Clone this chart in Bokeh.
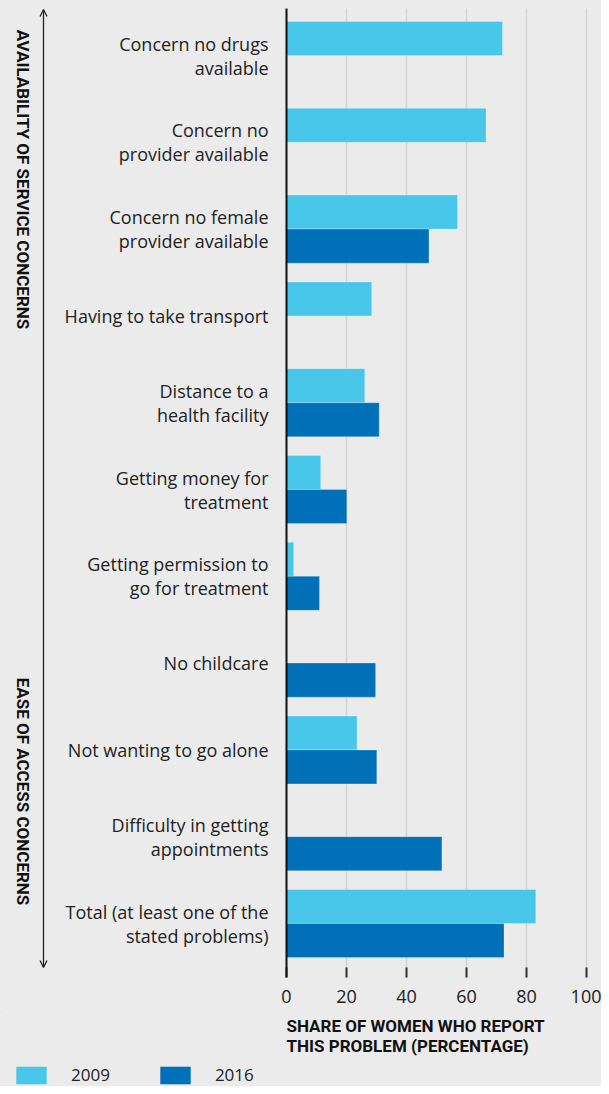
from bokeh.plotting import figure
from bokeh.layouts import column, row
from bokeh.models import (ColumnDataSource, Range1d, FixedTicker, Label, Arrow,
                          OpenHead, Legend, LegendItem)
from bokeh.embed import file_html
from bokeh.resources import INLINE
import math

categories = [
    "Concern no drugs\navailable",
    "Concern no\nprovider available",
    "Concern no female\nprovider available",
    "Having to take transport",
    "Distance to a\nhealth facility",
    "Getting money for\ntreatment",
    "Getting permission to\ngo for treatment",
    "No childcare",
    "Not wanting to go alone",
    "Difficulty in getting\nappointments",
    "Total (at least one of the\nstated problems)",
]
v2009 = [72.0, 66.5, 57.0, 28.4, 26.1, 11.4, 2.4, None, 23.5, None, 83.1]
v2016 = [None, None, 47.5, None, 30.9, 20.1, 11.0, 29.7, 30.1, 51.8, 72.5]
x_ticks = [0, 20, 40, 60, 80, 100]
series_names = ["2009", "2016"]
group_labels = ["AVAILABILITY OF SERVICE CONCERNS", "EASE OF ACCESS CONCERNS"]
axis_title = "SHARE OF WOMEN WHO REPORT\nTHIS PROBLEM (PERCENTAGE)"

C_LIGHT = "#49C7EA"
C_DARK = "#0070B8"
BG = "#EBEBEB"
TXT = "#222222"
DARK = "#111111"

BAR_H = 0.392
OFF = 0.196

SIDE_W = 60
MAIN_H = 1012
TOTAL_W = 601
TOTAL_H = 1086
TOP = 8
FRAME_BOTTOM = 977
FRAME_LEFT = 286
BG_STYLE = {"background-color": BG}

def style(fig):
    fig.background_fill_color = BG
    fig.border_fill_color = BG
    fig.outline_line_color = None

# ---------------- main chart ----------------
p = figure(width=TOTAL_W - SIDE_W, height=MAIN_H, output_backend="svg",
           toolbar_location=None, styles=BG_STYLE,
           x_range=Range1d(0, 105.0), y_range=Range1d(10.622, -0.5415),
           min_border_left=FRAME_LEFT - SIDE_W, min_border_right=0, min_border_top=TOP,
           min_border_bottom=MAIN_H - FRAME_BOTTOM)
style(p)

def src(vals, off):
    ys, xs = [], []
    for i, v in enumerate(vals):
        if v is not None:
            ys.append(i + off)
            xs.append(v)
    return ColumnDataSource(dict(y=ys, right=xs))

r1 = p.hbar(y="y", right="right", left=0, height=BAR_H, source=src(v2009, -OFF),
            fill_color=C_LIGHT, line_color="white", line_alpha=0.25, line_width=1)
r2 = p.hbar(y="y", right="right", left=0, height=BAR_H, source=src(v2016, OFF),
            fill_color=C_DARK, line_color="white", line_alpha=0.25, line_width=1)

xa = p.xaxis[0]
xa.ticker = FixedTicker(ticks=x_ticks)
xa.axis_line_color = None
xa.major_tick_in = 10
xa.major_tick_out = 0
xa.major_tick_line_color = "#333333"
xa.major_tick_line_width = 2
xa.minor_tick_line_color = None
xa.major_label_text_font = "Open Sans"
xa.major_label_text_font_size = "18px"
xa.major_label_text_color = TXT
xa.major_label_standoff = 12

ya = p.yaxis[0]
ya.ticker = FixedTicker(ticks=list(range(len(categories))))
ya.major_label_overrides = {i: c for i, c in enumerate(categories)}
ya.axis_line_color = DARK
ya.axis_line_width = 2
ya.major_tick_in = 0
ya.major_tick_out = 0
ya.minor_tick_line_color = None
ya.major_label_text_font = "Open Sans"
ya.major_label_text_font_size = "18px"
ya.major_label_text_color = TXT
ya.major_label_text_line_height = 1.0
ya.major_label_standoff = 18

p.xgrid.grid_line_color = "#D3D3D3"
p.xgrid.grid_line_width = 1.5
p.ygrid.grid_line_color = None

# ---------------- side panel (arrow + group labels) ----------------
s = figure(width=SIDE_W, height=MAIN_H, output_backend="svg", toolbar_location=None,
           styles=BG_STYLE,
           x_range=Range1d(0, SIDE_W), y_range=Range1d(FRAME_BOTTOM, TOP),
           x_axis_location=None, y_axis_location=None,
           min_border_left=0, min_border_right=0, min_border_top=TOP,
           min_border_bottom=MAIN_H - FRAME_BOTTOM)
style(s)
s.grid.visible = False
s.add_layout(Arrow(x_start=43, y_start=967, x_end=43, y_end=9,
                   line_color="#222222", line_width=1.3,
                   start=OpenHead(size=7, line_color="#222222", line_width=1.3),
                   end=OpenHead(size=7, line_color="#222222", line_width=1.3)))
for lbl, yc in zip(group_labels, [179, 791]):
    s.add_layout(Label(x=22, y=yc, text=lbl, angle=-math.pi / 2,
                       text_align="center", text_baseline="middle", text_font="Roboto",
                       text_font_style="bold", text_font_size="17px", text_color=DARK))

# ---------------- axis title + legend strip ----------------
b = figure(width=TOTAL_W, height=TOTAL_H - MAIN_H, output_backend="svg",
           toolbar_location=None, styles=BG_STYLE, x_range=Range1d(0, TOTAL_W),
           y_range=Range1d(TOTAL_H, MAIN_H),
           x_axis_location=None, y_axis_location=None,
           min_border_left=0, min_border_right=0, min_border_top=0, min_border_bottom=0)
style(b)
b.grid.visible = False
b.add_layout(Label(x=FRAME_LEFT, y=1015, text=axis_title, text_align="left",
                   text_baseline="top", text_font="Roboto", text_font_style="bold",
                   text_font_size="17px", text_color=DARK, text_line_height=1.0))
proxy = ColumnDataSource(dict(y=[0], right=[-5]))   # legend proxies, outside view
l1 = b.hbar(y="y", right="right", left=-10, height=1, source=proxy, fill_color=C_LIGHT, line_color=None)
l2 = b.hbar(y="y", right="right", left=-10, height=1, source=proxy, fill_color=C_DARK, line_color=None)
legend = Legend(items=[LegendItem(label=series_names[0], renderers=[l1]),
                       LegendItem(label=series_names[1], renderers=[l2])],
                location=(12, 0), orientation="horizontal",
                glyph_width=38, glyph_height=22, label_standoff=21, spacing=46,
                padding=0, margin=0, border_line_color=None,
                background_fill_alpha=0, label_text_font="Open Sans",
                label_text_font_size="17px", label_text_color=TXT)
b.add_layout(legend)

layout = column(row(s, p, spacing=0, styles=BG_STYLE), b, spacing=0, styles=BG_STYLE)
open("out.html", "w").write(file_html(layout, INLINE))
